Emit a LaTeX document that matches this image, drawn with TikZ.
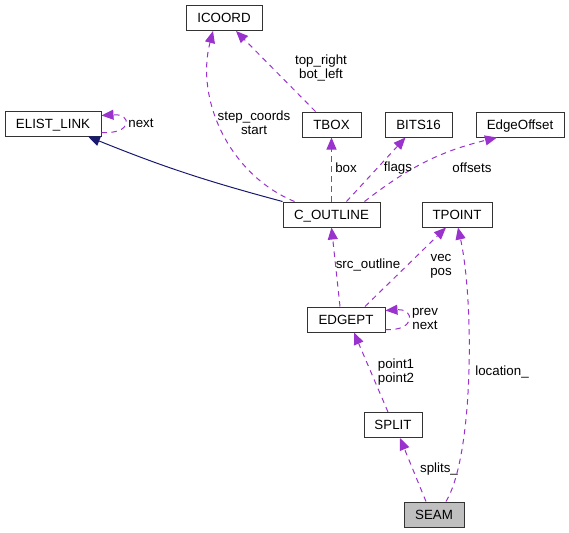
\documentclass[tikz,border=0pt]{standalone}
\usepackage{fontspec}
\setmainfont{Liberation Sans}
\usetikzlibrary{arrows.meta,calc}
\definecolor{edgepurple}{HTML}{9A32CD}
\definecolor{edgenavy}{HTML}{191970}
\definecolor{boxgray}{HTML}{BFBFBF}
\tikzset{
  cls/.style={draw=black!80, line width=0.75pt, minimum height=18.75pt, inner sep=0pt, text height=7.2pt, text depth=0pt, font=\fontsize{10}{12}\selectfont},
  member/.style={color=edgepurple, line width=0.75pt, dash pattern=on 4pt off 3.5pt, -{Triangle[length=9pt,width=7.5pt]}},
  inherit/.style={color=edgenavy, line width=0.75pt, -{Triangle[length=9pt,width=7.5pt]}},
  lbl/.style={font=\fontsize{10}{10.5}\selectfont, align=center, inner sep=0pt},
}
\begin{document}
\begin{tikzpicture}[x=0.75pt,y=0.75pt]
    \useasboundingbox (0,0) rectangle (569,-533);
    \node[cls, minimum width=57pt] (icoord) at (224,-18) {ICOORD};
    \node[cls, minimum width=72pt] (elist) at (53,-123.5) {ELIST\_LINK};
    \node[cls, minimum width=44.25pt] (tbox) at (331.5,-124.5) {TBOX};
    \node[cls, minimum width=50.25pt] (bits) at (418.5,-124.5) {BITS16};
    \node[cls, minimum width=66pt] (eoff) at (520,-124.5) {EdgeOffset};
    \node[cls, minimum width=72.75pt] (cout) at (331.5,-214.5) {C\_OUTLINE};
    \node[cls, minimum width=52.5pt] (tpoint) at (457,-214.5) {TPOINT};
    \node[cls, minimum width=58.5pt] (edgept) at (346,-319.5) {EDGEPT};
    \node[cls, minimum width=43.5pt] (split) at (393,-425) {SPLIT};
    \node[cls, minimum width=45pt, fill=boxgray] (seam) at (434,-514.5) {SEAM};

    \draw[inherit] (cout.north west) to[out=165,in=-22] ($(elist.south)+(35,0)$);
    \draw[member] ($(elist.south east)+(0,4)$) .. controls +(31,-2) and +(31,2) .. ($(elist.north east)+(0,-5)$);
    \draw[member] ($(cout.north)+(-37,0)$) .. controls (230,-175) and (195,-100) .. ($(icoord.south)+(-11,0)$);
    \draw[member] ($(tbox.north)+(-16,0)$) -- ($(icoord.south)+(12,0)$);
    \draw[member] (cout.north) -- (tbox.south);
    \draw[member] ($(cout.north)+(15,0)$) -- ($(bits.south)+(-13,0)$);
    \draw[member] ($(cout.north)+(33,0)$) to[bend left=12] ($(eoff.south)+(-23,0)$);
    \draw[member] ($(edgept.north)+(-6,0)$) -- (cout.south);
    \draw[member] ($(edgept.north)+(19,0)$) -- ($(tpoint.south)+(-11,0)$);
    \draw[member] ($(edgept.south east)+(0,3)$) .. controls +(30,-2) and +(30,2) .. ($(edgept.north east)+(0,-4)$);
    \draw[member] ($(split.north)+(-5,0)$) -- ($(edgept.south)+(8,0)$);
    \draw[member] ($(seam.north)+(-8,0)$) -- ($(split.south)+(7,0)$);
    \draw[member] ($(seam.north)+(12,0)$) .. controls (474,-455) and (474,-300) .. ($(tpoint.south)+(1,0)$);

    \node[lbl] (lnext) at (141,-123) {next};
    \node[lbl] (lstep) at (254,-123) {step\_coords\\start};
    \node[lbl] (ltop) at (321,-68) {top\_right\\bot\_left};
    \node[lbl] (lbox) at (346,-168) {box};
    \node[lbl] (lflags) at (398,-168) {flags};
    \node[lbl] (loffsets) at (472,-168) {offsets};
    \node[lbl] (lsrc) at (368,-265) {src\_outline};
    \node[lbl] (lvec) at (441,-266) {vec\\pos};
    \node[lbl] (lprev) at (425,-319) {prev\\next};
    \node[lbl] (lpoint) at (396,-372) {point1\\point2};
    \node[lbl] (lsplits) at (439,-469) {splits\_};
    \node[lbl] (lloc) at (502,-372) {location\_};
\end{tikzpicture}
\end{document}
